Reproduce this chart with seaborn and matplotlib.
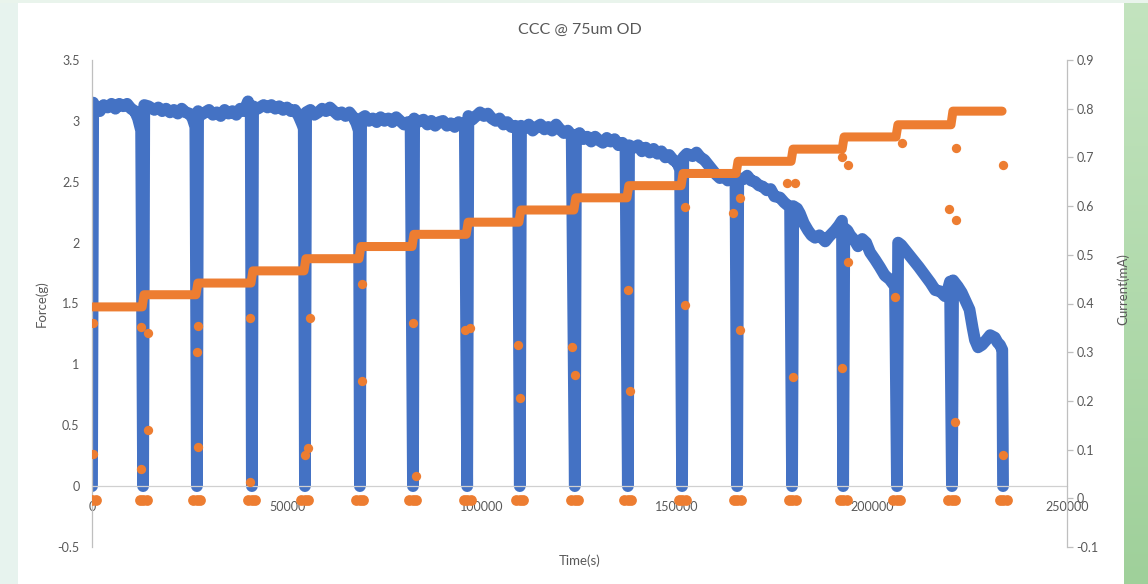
import numpy as np
import pandas as pd
import seaborn as sns
import matplotlib
matplotlib.use("Agg")
import matplotlib.pyplot as plt
from matplotlib.patches import Rectangle

# ---------------- data ----------------
title = "CCC @ 75um OD"
x_label = "Time(s)"
y_label_left = "Force(g)"
y_label_right = "Current(mA)"
x_ticks = [0, 50000, 100000, 150000, 200000, 250000]
y_ticks_left = [-0.5, 0, 0.5, 1, 1.5, 2, 2.5, 3, 3.5]
y_ticks_right = [-0.1, 0, 0.1, 0.2, 0.3, 0.4, 0.5, 0.6, 0.7, 0.8, 0.9]

# cycle boundaries (s) where force drops to zero and current steps up
boundaries = [0, 13100, 26900, 41000, 54600, 68700, 82300, 96200, 109700,
              123800, 137400, 151300, 165400, 179500, 192600, 206400,
              220500, 233600]

# force readings within each cycle: (time in ks, force in g)
force_cycles = [
    [(0.3, 3.15), (1, 3.10), (2, 3.08), (3, 3.13), (4, 3.11), (5, 3.14), (6, 3.10), (7, 3.14), (8, 3.12), (9, 3.14), (10, 3.10), (11, 3.08), (11.8, 3.02), (12.6, 2.92)],
    [(13.4, 3.13), (14.5, 3.12), (16, 3.09), (17, 3.11), (18, 3.08), (19, 3.10), (20, 3.07), (21, 3.09), (22, 3.06), (23, 3.10), (24, 3.07), (25, 3.06), (25.8, 3.02), (26.5, 2.95)],
    [(27.2, 3.08), (28, 3.05), (29, 3.07), (30, 3.09), (31, 3.05), (32, 3.07), (33, 3.04), (34, 3.09), (35, 3.06), (36, 3.08), (37, 3.05), (38, 3.10), (39, 3.08), (40.0, 3.16), (40.7, 3.05)],
    [(41.3, 3.12), (42.5, 3.10), (44, 3.13), (45, 3.11), (46, 3.13), (47, 3.10), (48, 3.12), (49, 3.09), (50, 3.11), (51, 3.08), (52, 3.09), (53, 3.04), (53.8, 2.98), (54.3, 2.94)],
    [(54.9, 3.07), (56, 3.09), (57, 3.05), (58, 3.07), (59, 3.10), (60, 3.08), (61, 3.11), (62, 3.08), (63, 3.05), (64, 3.07), (65, 3.04), (66, 3.07), (67, 3.03), (67.8, 2.98), (68.4, 2.92)],
    [(69.0, 3.02), (70, 3.04), (71, 3.00), (72, 3.02), (73, 2.99), (74, 3.03), (75, 3.00), (76, 3.02), (77, 2.99), (78, 3.03), (79, 3.00), (80, 2.97), (81, 2.99), (81.7, 2.94)],
    [(82.6, 3.02), (83.5, 2.99), (85, 3.01), (86, 2.97), (87, 3.00), (88, 2.96), (89, 2.99), (90, 3.00), (91, 2.96), (92, 2.98), (93, 2.95), (94, 2.99), (95, 2.97), (95.6, 2.95)],
    [(96.5, 3.04), (97.5, 3.01), (98.5, 3.04), (99.5, 3.07), (100.5, 3.04), (101.5, 3.06), (102.5, 3.02), (103.5, 3.00), (104.5, 3.02), (105.5, 2.97), (106.5, 2.99), (107.5, 2.95), (108.5, 2.96), (109.2, 2.91)],
    [(110.0, 2.96), (111, 2.94), (112, 2.97), (113, 2.92), (114, 2.95), (115, 2.97), (116, 2.93), (117, 2.95), (118, 2.92), (119, 2.97), (120, 2.93), (121, 2.90), (122, 2.92), (123, 2.88)],
    [(124.1, 2.88), (125, 2.90), (126, 2.85), (127, 2.87), (128, 2.83), (129, 2.87), (130, 2.84), (131, 2.82), (132, 2.86), (133, 2.83), (134, 2.85), (135, 2.80), (136, 2.82), (136.8, 2.76)],
    [(137.7, 2.80), (139, 2.78), (140, 2.80), (141, 2.75), (142, 2.78), (143, 2.74), (144, 2.77), (145, 2.73), (146, 2.75), (147, 2.70), (148, 2.72), (149, 2.68), (150, 2.66), (150.8, 2.60)],
    [(151.6, 2.70), (152.5, 2.73), (154, 2.71), (155, 2.74), (156, 2.70), (157, 2.68), (158, 2.64), (159, 2.60), (160, 2.56), (161, 2.53), (162, 2.55), (163, 2.51), (164, 2.55), (165.0, 2.50)],
    [(165.7, 2.53), (167, 2.52), (168, 2.55), (169, 2.51), (170, 2.50), (171, 2.47), (172, 2.46), (173, 2.43), (174, 2.44), (175, 2.38), (176.4, 2.37), (177.5, 2.33), (179.0, 2.29)],
    [(179.8, 2.30), (180.8, 2.28), (181.5, 2.24), (182.5, 2.16), (183.6, 2.10), (184.5, 2.06), (185.4, 2.04), (186.5, 2.06), (188, 2.01), (189, 2.05), (190.5, 2.10), (191.5, 2.14), (192.3, 2.18)],
    [(192.9, 2.12), (193.7, 2.10), (194.4, 2.06), (195.5, 2.02), (196.4, 1.97), (197.5, 2.03), (198.5, 2.00), (199.5, 1.92), (200.8, 1.86), (202, 1.80), (203.3, 1.73), (204.5, 1.70), (205.9, 1.64)],
    [(206.7, 2.00), (207.5, 1.98), (208.5, 1.94), (209.5, 1.90), (211, 1.84), (212, 1.80), (213.6, 1.73), (215, 1.67), (216.2, 1.61), (217.5, 1.60), (218.7, 1.56), (219.5, 1.62), (220.0, 1.68)],
    [(220.8, 1.69), (222, 1.64), (223, 1.59), (224, 1.52), (225, 1.45), (225.8, 1.30), (226.4, 1.20), (227.2, 1.14), (228.2, 1.16), (229.3, 1.20), (230.3, 1.24), (231.5, 1.22), (232.2, 1.18), (232.8, 1.16), (233.4, 1.12)],
]

# current step level (mA) for each cycle
current_levels = [0.393, 0.418, 0.442, 0.467, 0.492, 0.517, 0.542, 0.567,
                  0.592, 0.617, 0.642, 0.667, 0.692, 0.717, 0.742, 0.767, 0.795]

# isolated transient current readings (s, mA)
transient_t = [300, 300, 12600, 14400, 14400, 12600, 27200, 26900, 27100,
               40500, 40500, 55900, 55400, 54600, 69200, 69200, 82300, 83100,
               95600, 96900, 109200, 109700, 123100, 123800, 137400, 137900,
               152000, 152000, 166200, 164400, 166200, 178200, 180300, 179800,
               192300, 193800, 193800, 192300, 205900, 207700, 221500, 219700,
               221500, 221300, 233600, 233600]
transient_ma = [0.36, 0.09, 0.351, 0.339, 0.14, 0.06, 0.353, 0.30, 0.105,
                0.37, 0.033, 0.37, 0.103, 0.088, 0.44, 0.24, 0.36, 0.045,
                0.345, 0.35, 0.314, 0.205, 0.31, 0.253, 0.427, 0.22,
                0.598, 0.396, 0.616, 0.585, 0.345, 0.647, 0.647, 0.25,
                0.70, 0.684, 0.485, 0.268, 0.413, 0.73, 0.72, 0.595,
                0.571, 0.156, 0.684, 0.088]

# ---------------- build tables ----------------
f_t, f_v = [0.0], [0.0]
for k, cyc in enumerate(force_cycles):
    for t, v in cyc:
        f_t.append(t * 1000)
        f_v.append(v)
    f_t.append(boundaries[k + 1])
    f_v.append(0.0)
force_df = pd.DataFrame({"t": f_t, "force": f_v})

# staircase for the current: each level held across its cycle, risers at boundaries
c_t, c_v = [], []
for k, lvl in enumerate(current_levels):
    c_t += [boundaries[k] + 250, boundaries[k + 1] - 250]
    c_v += [lvl, lvl]
current_df = pd.DataFrame({"t": c_t, "current": c_v})

zero_t = [b + d for b in boundaries for d in (-900, 0, 900)]
zero_df = pd.DataFrame({"t": zero_t, "current": [-0.003] * len(zero_t)})
trans_df = pd.DataFrame({"t": transient_t, "current": transient_ma})

# ---------------- figure ----------------
sns.set_theme(style="white")
plt.rcParams["font.family"] = ["Lato", "DejaVu Sans"]
TXT = "#595959"
AX = "#bfbfbf"
BLUE = "#4472C4"
ORANGE = "#ED7D31"

W, H = 1148, 584
fig = plt.figure(figsize=(W / 100, H / 100), dpi=100)
fig.patch.set_facecolor("white")
# surrounding slide background strips
fig.patches.append(Rectangle((0, 0), 18 / W, 1, transform=fig.transFigure,
                             facecolor="#e7f3ee", edgecolor="none", zorder=0))
fig.patches.append(Rectangle((0, 1 - 3 / H), 1, 3 / H, transform=fig.transFigure,
                             facecolor="#e9f4ec", edgecolor="none", zorder=0))
bg = fig.add_axes([1124 / W, 0, 24 / W, 1])
grad = np.linspace(0, 1, 256).reshape(-1, 1)
bg.imshow(grad, aspect="auto", cmap=matplotlib.colors.LinearSegmentedColormap.from_list(
    "g", ["#c3e4bf", "#9fd09a"]), extent=[0, 1, 0, 1], origin="upper")
bg.set_axis_off()

ax = fig.add_axes([92 / W, 1 - 547 / H, (1067 - 92) / W, (547 - 60) / H])
ax.set_facecolor("none")

sns.lineplot(data=force_df, x="t", y="force", ax=ax, color=BLUE, sort=False,
             estimator=None, linewidth=8.5, solid_capstyle="round",
             solid_joinstyle="round", legend=False)

ax.set_xlim(0, 250000)
ax.set_ylim(-0.5, 3.5)
ax.set_xticks(x_ticks)
ax.set_xticklabels([str(v) for v in x_ticks])
ax.set_yticks(y_ticks_left)
ax.set_yticklabels([f"{v:g}" for v in y_ticks_left])
for s in ["top", "right"]:
    ax.spines[s].set_visible(False)
ax.spines["bottom"].set_position(("data", 0))
ax.spines["bottom"].set_color("#d0d0d0")
ax.spines["left"].set_color(AX)
for s in ["bottom", "left"]:
    ax.spines[s].set_linewidth(0.9)
ax.tick_params(axis="x", length=0, pad=11, labelsize=9, colors=TXT)
ax.tick_params(axis="y", length=0, pad=9, labelsize=9, colors=TXT)
ax.set_xlabel("")
ax.set_ylabel(y_label_left, color=TXT, fontsize=9.5)
ax.yaxis.set_label_coords(-0.045, 0.5)
ax.text(0.5005, -0.029, x_label, transform=ax.transAxes, ha="center",
        va="center", color=TXT, fontsize=9.5)

ax2 = ax.twinx()
sns.lineplot(data=current_df, x="t", y="current", sort=False, estimator=None,
             ax=ax2, color=ORANGE, linewidth=6.5, solid_capstyle="round",
             solid_joinstyle="round", legend=False)
sns.scatterplot(data=zero_df, x="t", y="current", ax=ax2, color=ORANGE, s=60,
                linewidth=0, legend=False)
sns.scatterplot(data=trans_df, x="t", y="current", ax=ax2, color=ORANGE, s=45,
                linewidth=0, legend=False)
ax2.set_ylim(-0.1, 0.9)
ax2.set_yticks(y_ticks_right)
ax2.set_yticklabels([f"{v:g}" for v in y_ticks_right])
for s in ["top", "left", "bottom"]:
    ax2.spines[s].set_visible(False)
ax2.spines["right"].set_color(AX)
ax2.spines["right"].set_linewidth(0.9)
ax2.tick_params(axis="y", length=4, width=0.9, color=AX, pad=3, labelsize=9,
                colors=TXT)
ax2.set_xlabel("")
ax2.set_ylabel(y_label_right, color=TXT, fontsize=9.5)
ax2.yaxis.set_label_coords(1.051, 0.53)

fig.text(580 / W, 1 - 30 / H, title, ha="center", va="center", color=TXT,
         fontsize=11.5)

fig.savefig("out.png", dpi=100)
